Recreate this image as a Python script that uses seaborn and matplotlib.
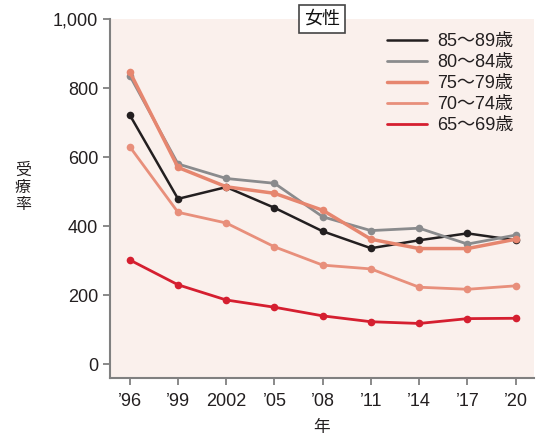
import pandas as pd
import matplotlib
matplotlib.use('Agg')
import matplotlib.pyplot as plt
import matplotlib.ticker as mticker
import seaborn as sns

# Data (女性, 受療率 by age group)
years = ['’96', '’99', '2002', '’05', '’08', '’11', '’14', '’17', '’20']
groups = ['85〜89歳', '80〜84歳', '75〜79歳', '70〜74歳', '65〜69歳']
age_85_89 = [722, 479, 513, 453, 385, 336, 359, 379, 359]
age_80_84 = [836, 580, 538, 524, 427, 387, 394, 348, 374]
age_75_79 = [847, 570, 514, 495, 446, 362, 335, 335, 362]
age_70_74 = [630, 440, 409, 340, 287, 276, 223, 217, 227]
age_65_69 = [302, 230, 186, 165, 140, 123, 118, 132, 133]

colors = ['#231f20', '#8a8b8d', '#e6866f', '#e88f7b', '#d51f30']
widths = [1.8, 2.0, 2.5, 2.0, 2.0]

series = [age_85_89, age_80_84, age_75_79, age_70_74, age_65_69]
rows = []
for g, vals in zip(groups, series):
    for i, v in enumerate(vals):
        rows.append({'idx': i, 'rate': v, 'group': g})
df = pd.DataFrame(rows)

sns.set_style('white')
plt.rcParams['font.family'] = ['Liberation Sans', 'Noto Sans CJK JP']

fig = plt.figure(figsize=(5.44, 4.41), dpi=100)
ax = fig.add_axes([110 / 544, 1 - 378 / 441, 424 / 544, 359 / 441])
ax.set_facecolor('#faf0ec')

sns.lineplot(data=df, x='idx', y='rate', hue='group', hue_order=groups,
             palette=colors, marker='o', markersize=5.5, markeredgewidth=0,
             ax=ax, sort=False)
for line, lw in zip(ax.lines, widths):
    line.set_linewidth(lw)

ax.set_xlim(-0.41, 8.38)
ax.set_ylim(-40, 1000)
ax.set_xticks(range(len(years)))
ax.set_xticklabels(years)
ax.set_yticks([0, 200, 400, 600, 800, 1000])
ax.yaxis.set_major_formatter(mticker.FuncFormatter(lambda v, p: f'{int(v):,}'))

for s in ['top', 'right']:
    ax.spines[s].set_visible(False)
for s in ['left', 'bottom']:
    ax.spines[s].set_color('#808080')
    ax.spines[s].set_linewidth(1.5)
ax.tick_params(axis='both', which='both', length=5, width=1.3, color='#808080',
               labelsize=13, labelcolor='#231f20', bottom=True, left=True)
ax.tick_params(axis='x', pad=6)

ax.set_xlabel('年', fontsize=12, color='#231f20', labelpad=7)
ax.set_ylabel('')
fig.text(0.042, 0.575, '受\n療\n率', fontsize=11.5, color='#231f20',
         ha='center', va='center', linespacing=1.15)

ax.set_title('')
fig.text(322 / 544, 1 - 19 / 441, '女性', fontsize=13, color='#111111',
         ha='center', va='center',
         bbox=dict(boxstyle='square,pad=0.3', fc='white', ec='#444444', lw=1.2))

handles, labels = ax.get_legend_handles_labels()
leg = ax.legend(handles, labels, loc='upper right', frameon=False,
                fontsize=13, handlelength=2.2, handletextpad=0.55,
                labelspacing=0.22, borderaxespad=0.4,
                bbox_to_anchor=(0.985, 1.0))
for h, c, lw in zip(leg.get_lines(), colors, widths):
    h.set_marker('')
    h.set_linewidth(lw)
for t in leg.get_texts():
    t.set_color('#231f20')

fig.savefig('out.png', dpi=100)
